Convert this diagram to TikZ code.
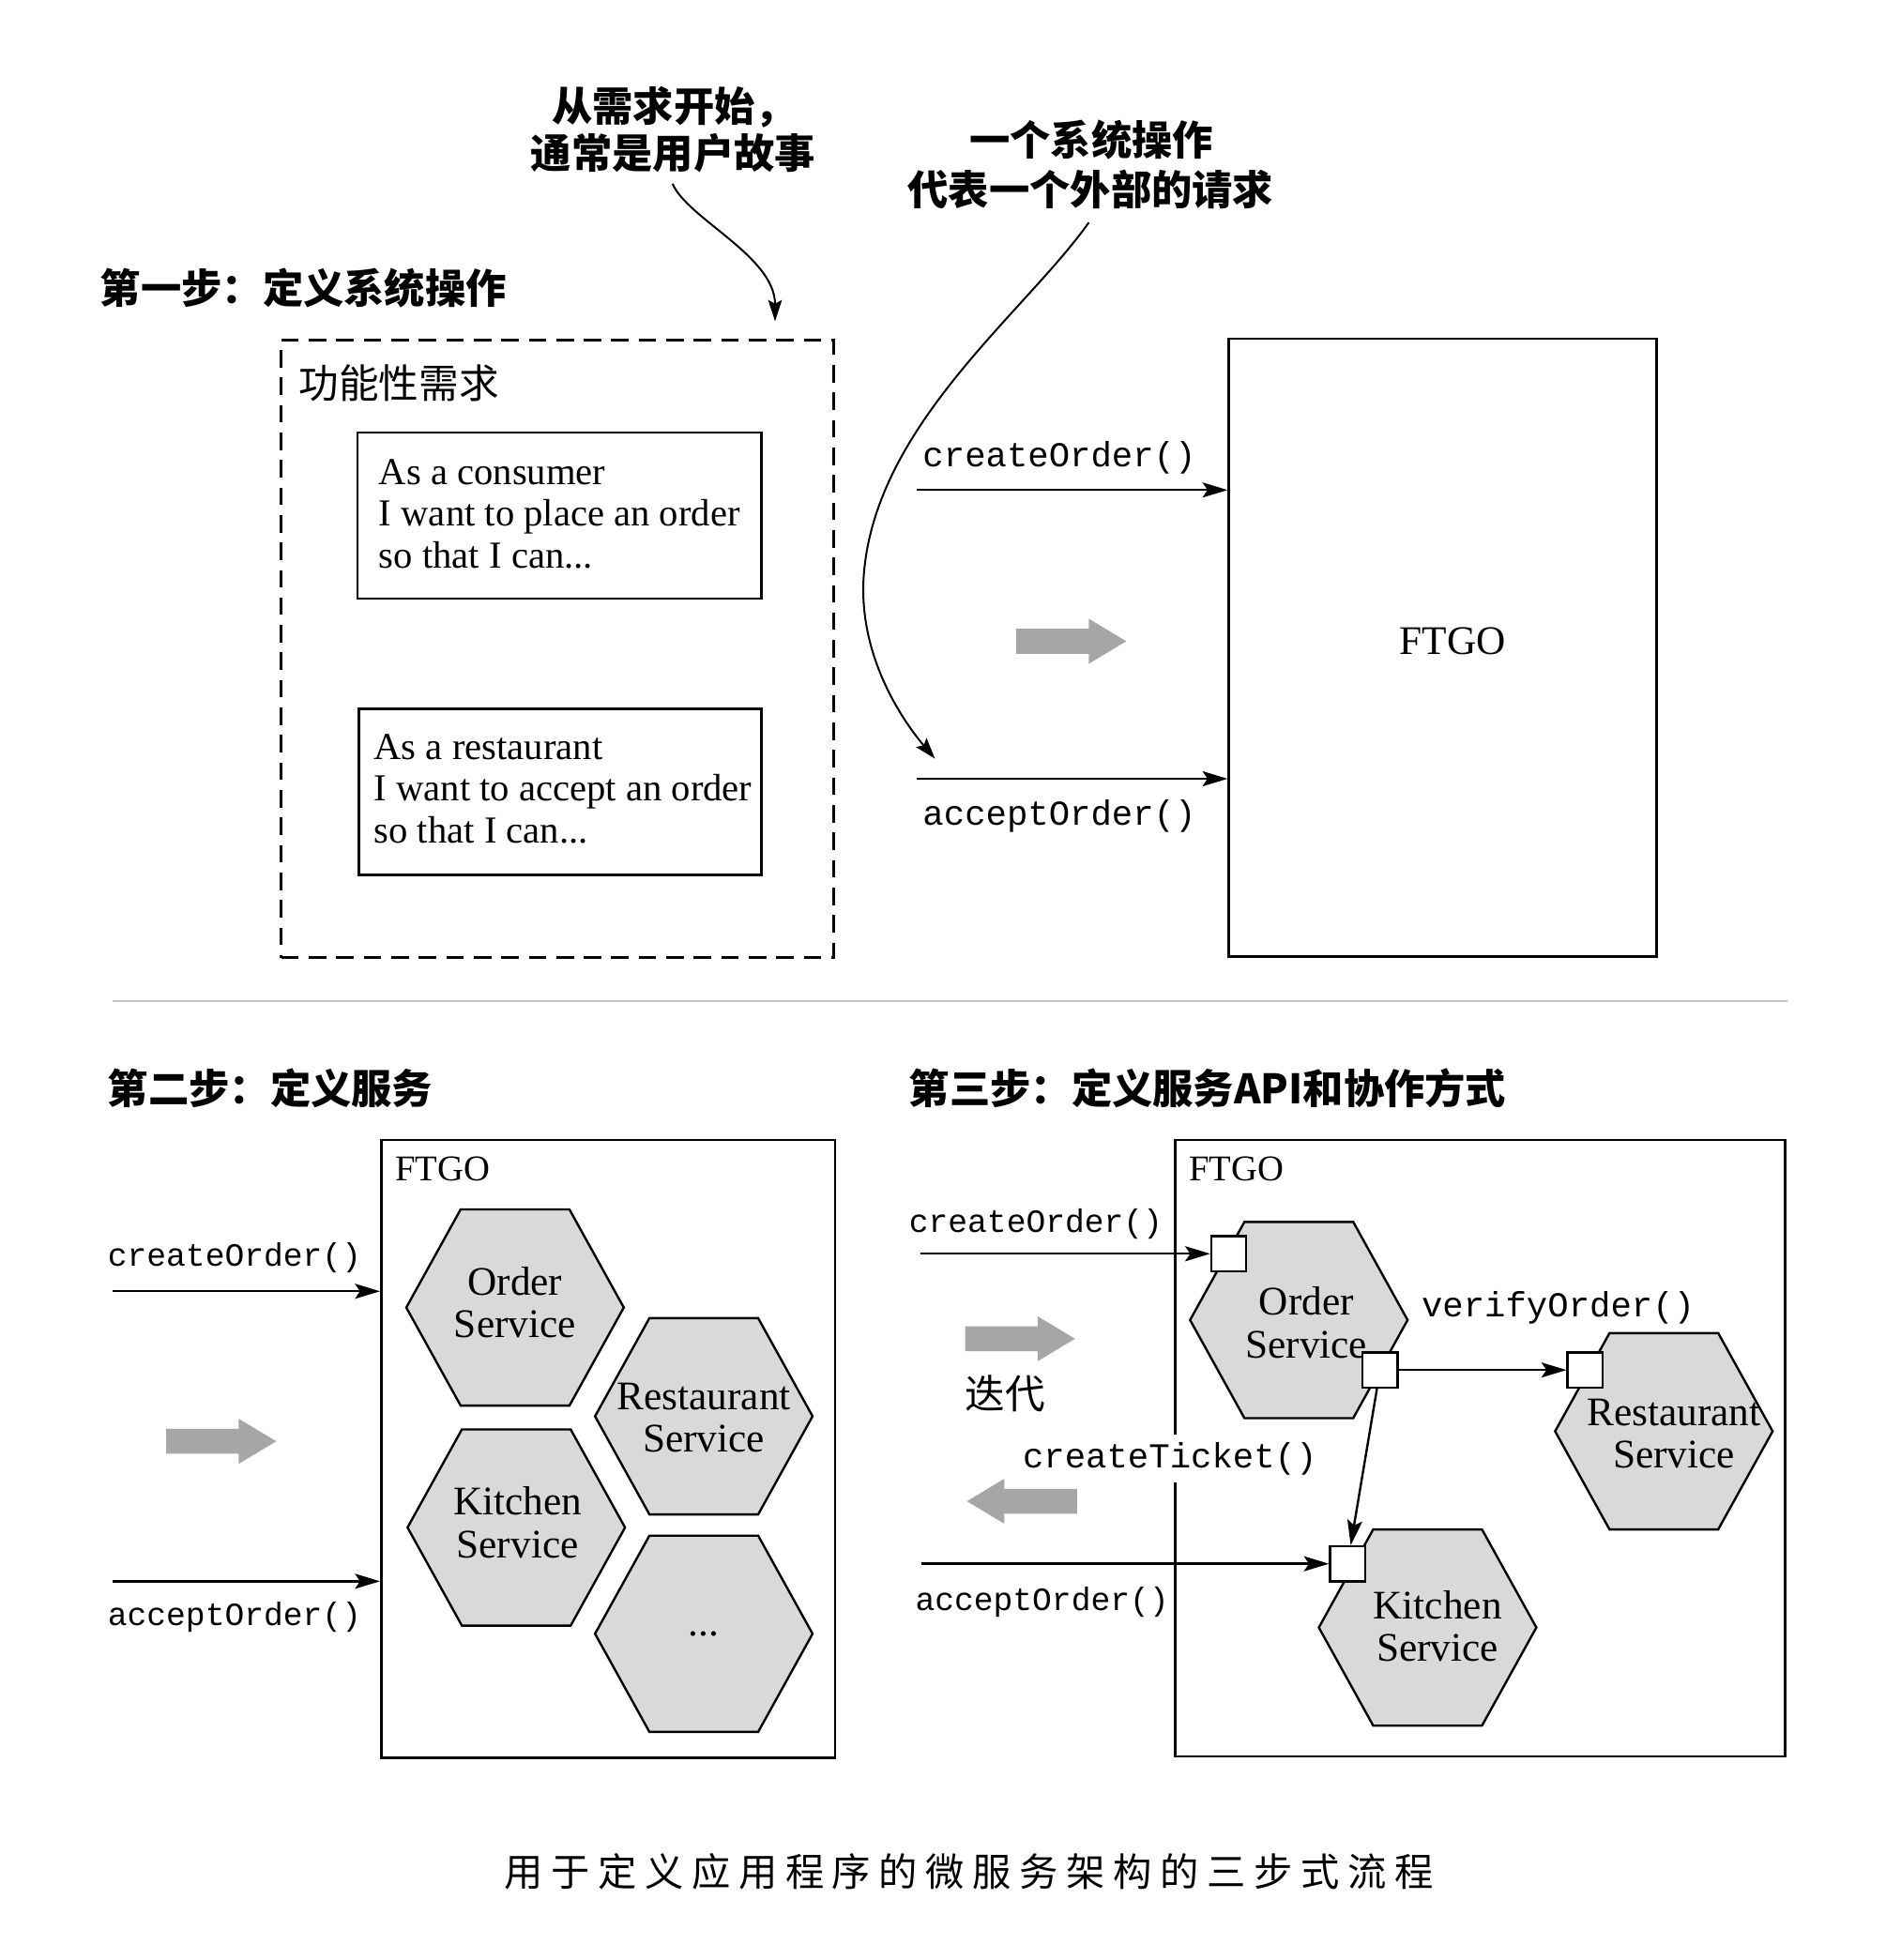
\documentclass[tikz,border=0pt]{standalone}
\usepackage{fontspec}
\setmainfont{Liberation Serif}
\setmonofont{Liberation Mono}
\newfontfamily\cjk{Noto Sans CJK SC}
\newfontfamily\cjkcap{Noto Sans CJK SC}[LetterSpace=21]
\usetikzlibrary{arrows.meta}
\definecolor{hexgray}{HTML}{D9D9D9}
\definecolor{fatgray}{HTML}{A6A6A6}
\definecolor{rulegray}{HTML}{C4C4C4}
\tikzset{
  arr/.style={-{Stealth[length=20pt,width=12pt,inset=4pt]}, line width=1.8pt},
  ann/.style={-{Stealth[length=17pt,width=11pt,inset=3pt]}, line width=1.5pt},
  title/.style={font=\cjk\bfseries\fontsize{32.5}{38}\selectfont, inner sep=0, anchor=base west},
  note/.style={font=\cjk\bfseries\fontsize{32.5}{38}\selectfont, inner sep=0, anchor=base},
  cjkreg/.style={font=\cjk\fontsize{32}{38}\selectfont, inner sep=0, anchor=base west},
  mono/.style={font=\ttfamily\fontsize{28}{30}\selectfont, inner sep=0, anchor=west},
  smallmono/.style={font=\ttfamily\fontsize{26}{30}\selectfont, inner sep=0, anchor=west},
  story/.style={font=\fontsize{30.5}{33.5}\selectfont, align=left, inner sep=0, anchor=west},
  svc/.style={font=\fontsize{32.5}{34}\selectfont, align=center, inner sep=0},
  ftgo/.style={font=\fontsize{29}{30}\selectfont, inner sep=0, anchor=west},
  frame/.style={draw, line width=2pt, inner sep=0},
  port/.style={draw, fill=white, line width=1.8pt, minimum size=28pt, inner sep=0},
  hexpic/.pic={\filldraw[fill=hexgray, line width=1.8pt] (-87,0) -- (-43.5,-78.5) -- (43.5,-78.5) -- (87,0) -- (43.5,78.5) -- (-43.5,78.5) -- cycle;},
  fatarrow/.pic={\fill[fatgray] (-44,-10) -- (14,-10) -- (14,-18) -- (44,0) -- (14,18) -- (14,10) -- (-44,10) -- cycle;}
}
\begin{document}
\begin{tikzpicture}[x=1pt, y=-1pt]
\useasboundingbox (0,0) rectangle (1520,1568);
\fill[white] (0,0) rectangle (1520,1568);

% ---------- Step 1 ----------
\node[note] (a1a) at (539,97) {从需求开始，};
\node[note] (a1b) at (538.5,134.5) {通常是用户故事};
\node[note] (a2a) at (873,124) {一个系统操作};
\node[note] (a2b) at (872.5,164) {代表一个外部的请求};
\node[title] (t1) at (80,243) {第一步：定义系统操作};

\node[frame, dash pattern=on 14pt off 8pt, minimum width=442pt, minimum height=494pt] (req) at (446,519) {};
\node[cjkreg] (fr) at (239,319) {功能性需求};

\node[frame, minimum width=323pt, minimum height=133pt] (s1) at (447.5,412.5) {};
\node[story] (s1t) at (303,411) {As a consumer\\I want to place an order\\so that I can...};
\node[frame, minimum width=322pt, minimum height=133pt] (s2) at (448,633.5) {};
\node[story] (s2t) at (299,631) {As a restaurant\\I want to accept an order\\so that I can...};

\node[frame, minimum width=342pt, minimum height=494pt] (ftgo1) at (1154,518) {};
\node[font=\fontsize{32.5}{34}\selectfont, inner sep=0] (ftgo1t) at (1162,513) {FTGO};

\coordinate (co1) at (733,392);
\coordinate (ao1) at (733,623);
\draw[arr] (co1) -- (co1 -| ftgo1.west);
\draw[arr] (ao1) -- (ao1 -| ftgo1.west);
\node[mono] (co1t) at (738,366) {createOrder()};
\node[mono] (ao1t) at (738,653) {acceptOrder()};
\pic at (857,513) {fatarrow};

\coordinate (c1s) at (538,147);
\coordinate (c1e) at (620,257);
\draw[ann] (c1s) .. controls (550,175) and (620,205) .. (c1e);
\coordinate (c2s) at (871,178);
\coordinate (c2m) at (691,460);
\coordinate (c2e) at (748,607);
\draw[ann] (c2s) .. controls (820,250) and (700,340) .. (c2m) .. controls (686,527) and (725,580) .. (c2e);

% ---------- rule ----------
\coordinate (r1) at (90,801);
\coordinate (r2) at (1430,801);
\draw[rulegray, line width=2pt] (r1) -- (r2);

% ---------- Step 2 ----------
\node[title] (t2) at (86,883) {第二步：定义服务};
\node[frame, minimum width=363pt, minimum height=494pt] (box2) at (486.5,1159) {};
\node[ftgo] (ftgo2) at (316,935) {FTGO};

\pic at (412,1046) {hexpic};
\pic at (563,1133) {hexpic};
\pic at (413,1222) {hexpic};
\pic at (563,1307) {hexpic};
\node[svc] (os2) at (412,1042) {Order\\Service};
\node[svc] (rs2) at (563,1134) {Restaurant\\Service};
\node[svc] (ks2) at (414,1218) {Kitchen\\Service};
\node[svc] (more2) at (563,1307) {...};

\coordinate (co2) at (90,1033);
\coordinate (ao2) at (90,1265);
\draw[arr] (co2) -- (co2 -| box2.west);
\draw[arr] (ao2) -- (ao2 -| box2.west);
\node[smallmono] (co2t) at (86,1006) {createOrder()};
\node[smallmono] (ao2t) at (86,1294) {acceptOrder()};
\pic at (177,1153) {fatarrow};

% ---------- Step 3 ----------
\node[title] (t3) at (727,883) {第三步：定义服务API和协作方式};
\node[frame, minimum width=488pt, minimum height=493pt] (box3) at (1184,1158.5) {};
\node[ftgo] (ftgo3) at (951,935) {FTGO};

\pic at (1039,1056) {hexpic};
\pic at (1331,1145) {hexpic};
\pic at (1142,1302) {hexpic};
\node[svc] (os3) at (1045,1058) {Order\\Service};
\node[svc] (rs3) at (1339,1147) {Restaurant\\Service};
\node[svc] (ks3) at (1150,1301) {Kitchen\\Service};

\node[port] (p1) at (983,1003) {};
\node[port] (p2) at (1104,1096) {};
\node[port] (p3) at (1268,1096) {};
\node[port] (p4) at (1078,1251) {};

\coordinate (co3) at (736,1003);
\coordinate (ao3) at (737,1251);
\draw[arr] (co3) -- (p1);
\draw[arr] (ao3) -- (p4);
\draw[arr] (p2) -- (p3);
\draw[arr] (p2) -- (p4);

\node[smallmono] (co3t) at (727,979) {createOrder()};
\node[smallmono] (ao3t) at (732,1282) {acceptOrder()};
\node[mono, fill=white, inner ysep=6pt] (ct3t) at (818,1167) {createTicket()};
\node[mono] (vo3t) at (1137,1046) {verifyOrder()};

\pic at (816,1071) {fatarrow};
\pic[rotate=180] at (817.5,1201) {fatarrow};
\node[cjkreg] (iter) at (772,1127) {迭代};

% ---------- caption ----------
\node[font=\cjkcap\fontsize{31}{36}\selectfont, inner sep=0, anchor=base west] (cap) at (403,1509) {用于定义应用程序的微服务架构的三步式流程};
\end{tikzpicture}
\end{document}
